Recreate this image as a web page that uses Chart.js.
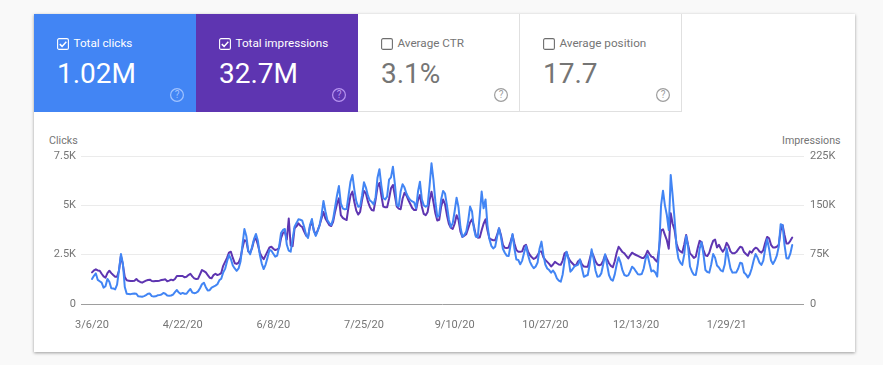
<!DOCTYPE html>
<html>
<head>
<meta charset="utf-8">
<script src="https://cdn.jsdelivr.net/npm/chart.js@4"></script>
<style>
html,body{margin:0;padding:0;width:883px;height:365px;overflow:hidden;background:#f9f9f9;font-family:Roboto,sans-serif}
#card{position:absolute;left:34px;top:14px;width:821px;height:338px;background:#fff;box-shadow:0 1px 3px rgba(0,0,0,.38)}
.tile{position:absolute;top:14px;width:162px;height:98px;box-sizing:border-box;color:#fff}
.tile.off{color:#757575;border-right:1px solid #e0e0e0;border-bottom:1px solid #e0e0e0}
.box{position:absolute;left:23px;top:23.5px;width:12px;height:12px}
.lab{position:absolute;left:39.5px;top:21px;font-size:11.7px;line-height:16px;white-space:nowrap}
.val{position:absolute;left:23px;top:43px;font-size:28px;line-height:34px;white-space:nowrap}
.help{position:absolute;left:135px;top:72.5px;width:16px;height:16px}
.ax{position:absolute;top:134px;font-size:10.7px;line-height:14px;color:#757575;white-space:nowrap}
canvas{position:absolute;left:0;top:0}
</style>
</head>
<body>
<div id="card"></div>
<div id="tiles"></div>
<div class="ax" style="left:49px">Clicks</div>
<div class="ax" style="left:782px">Impressions</div>
<canvas id="c" width="883" height="365"></canvas>
<script>
const startDate = "3/6/20";
const tickLabels = ["3/6/20","4/22/20","6/8/20","7/25/20","9/10/20","10/27/20","12/13/20","1/29/21"];
const tickEveryDays = 47;
const clickTicks = {0:"0",2500:"2.5K",5000:"5K",7500:"7.5K"};
const impressionTicks = {0:"0",75000:"75K",150000:"150K",225000:"225K"};
const tileNames = ["Total clicks","Total impressions","Average CTR","Average position"];
const tileValues = ["1.02M","32.7M","3.1%","17.7"];

const clicks = [
1270,1430,1550,1220,1150,1080,830,900,1270,1130,
800,790,740,980,1720,2530,2060,860,520,510,
500,520,530,520,390,380,370,400,450,520,
530,400,380,390,440,450,480,560,520,430,
420,430,480,600,710,580,510,560,520,520,
650,760,580,550,570,640,800,1000,1080,850,
690,700,830,880,930,1000,1200,1280,1600,1780,
2150,2480,2280,1950,1800,1680,1800,2150,3000,3800,
3450,2700,2520,2900,3300,3550,3200,2500,2050,1770,
2000,2350,2740,2700,2550,2400,2450,2900,3600,3750,
3800,3000,2700,2650,3300,3920,4100,4290,4270,4220,
3900,3500,3350,4000,4310,3700,3450,3700,4000,4500,
5220,4700,4260,4100,4000,4300,4900,5500,5980,5100,
4850,4800,4810,5500,6200,6540,5800,5200,4930,4950,
5500,6170,5900,5500,5250,5180,5050,5400,6400,6830,
6000,5360,5300,5450,6300,6420,6960,6100,5020,4950,
5700,6070,5900,5600,5400,5270,5200,5150,4850,5700,
6200,5300,5000,4930,5000,6000,7130,6300,5200,4420,
4500,5300,5730,5600,5000,4300,3900,4100,4700,5390,
4900,3900,3410,3500,3670,4200,4940,4700,3800,3410,
3400,4500,5700,4850,5300,4000,3300,2950,2820,2900,
3400,3840,3400,2800,2600,2450,2430,3000,3550,2800,
2250,2230,2010,2200,2600,2940,2500,2150,1950,1810,
1900,2100,2800,3160,2500,2000,1800,1720,1590,1700,
1550,1300,1180,1130,1500,2200,2650,2300,1640,1750,
1890,1950,2000,2260,1800,1380,1430,1470,2000,2770,
2300,1700,1380,1400,1550,2000,2520,2000,1470,1250,
1180,1500,2000,2370,2100,1700,1470,1420,1450,1650,
1890,1800,1650,1510,1500,1520,1800,2300,2480,2050,
1650,1700,1600,1390,2800,5000,5740,5000,4510,3750,
6540,5500,4300,2900,2300,2100,1980,2500,3450,2900,
1900,1650,1480,1470,2000,2800,3130,2500,1720,1620,
1590,2000,2530,2350,1950,1850,1700,1650,2000,2820,
2300,1800,1590,1600,1600,1800,2090,2050,1600,1500,
1350,1500,1800,2200,2530,2350,2100,1980,2200,2800,
3280,2800,2200,2030,2200,2450,2900,4040,4000,3000,
2320,2300,2550,2990];

const impressions = [
48100,51000,52700,51000,50600,46000,42000,40000,47000,50600,
47000,44000,41500,41500,51000,73000,60000,41000,36000,35500,
35000,35000,35500,38000,35000,33500,32500,34000,35500,36500,
37000,35000,34500,35000,35000,35500,36500,37000,37500,34500,
35500,37000,36000,38000,42500,42500,42500,42500,40500,41500,
44000,46000,42000,39000,38000,38500,45000,51700,50000,48000,
44000,40000,39000,44000,46000,44000,45000,47000,58000,64000,
70000,78000,79500,70000,62000,61000,63000,70000,85000,97000,
96000,80000,78000,85000,97000,100000,90000,78000,72000,68000,
74000,80000,86000,87000,84000,82000,83000,85000,100000,108000,
110000,98000,130000,89000,88000,115000,118000,122600,119000,117000,
110000,104000,102000,118000,125000,112000,105000,112000,120000,130000,
140000,130000,125000,120000,118600,125000,140000,152000,160600,135000,
131000,129000,127700,148000,165000,170800,155000,142000,136000,140000,
158000,172000,168000,156000,148000,143000,142000,158000,178000,184000,
165000,148000,147000,147000,160000,176000,181000,165000,148000,145000,
144000,160000,169000,165000,158000,152000,146000,143000,143000,158000,
165700,148000,137000,135000,140000,158000,170700,155000,138000,127000,
128000,148000,159000,152000,135000,122000,116000,114000,122000,135000,
128000,110000,102000,104000,106000,115000,124000,128700,118000,104000,
100800,101000,112000,122000,128700,112000,100000,98000,97000,97000,
105000,115000,105000,90000,85600,85000,86000,95000,105000,92000,
82000,79500,79500,80000,88000,90000,80000,74500,71000,68500,
70000,74000,80000,80000,71000,67000,64000,61000,57000,60000,
64000,62000,60000,59500,66000,77000,79000,70000,65000,62000,
59000,59500,65000,67000,60000,57000,56700,56700,68000,79000,
73000,65000,60000,59000,60000,66000,74500,68000,62000,58000,
55800,65000,78000,87000,83000,79000,77000,73000,69400,74000,
78000,76000,74500,73000,71500,70000,70000,74000,81000,76000,
72000,71000,67000,64000,85000,112000,113500,105000,97000,84000,
138000,122000,112500,92000,83000,80000,78000,90000,105000,90000,
77000,74000,70000,72000,85000,96000,94000,82000,74000,73000,
78000,88000,96000,98000,86000,90000,84000,79500,84000,93000,
88000,80000,77000,77000,79000,83000,87000,86000,79000,76000,
73400,80000,78000,83000,85600,84000,80000,78000,82000,93000,
102000,100000,90000,86000,86000,87000,90000,112000,120000,105000,
92000,92000,96000,101000];

// ---- KPI tiles ----
const tileStyle = [
  {left:34,bg:"#4285f4",on:true,help:"#a0c3ff"},
  {left:196,bg:"#5e35b1",on:true,help:"#b794f0"},
  {left:358,bg:"#fff",on:false,help:"#9e9e9e"},
  {left:520,bg:"#fff",on:false,help:"#9e9e9e"}
];
const tilesEl = document.getElementById("tiles");
tileNames.forEach((name,i)=>{
  const s = tileStyle[i];
  const t = document.createElement("div");
  t.className = "tile" + (s.on ? "" : " off");
  t.style.left = s.left + "px";
  t.style.background = s.bg;
  const box = s.on
    ? `<svg class="box" viewBox="0 0 12 12"><rect x=".6" y=".6" width="10.8" height="10.8" rx="1.5" fill="none" stroke="#fff" stroke-width="1.1"/><path d="M2.8 6.1l2.3 2.3 4.2-4.6" fill="none" stroke="#fff" stroke-width="1.5"/></svg>`
    : `<svg class="box" viewBox="0 0 12 12"><rect x=".6" y=".6" width="10.8" height="10.8" rx="1.5" fill="none" stroke="#6e6e6e" stroke-width="1.1"/></svg>`;
  t.innerHTML = box +
    `<div class="lab">${name}</div><div class="val">${tileValues[i]}</div>` +
    `<svg class="help" viewBox="0 0 16 16"><circle cx="8" cy="8" r="6.4" fill="none" stroke="${s.help}" stroke-width="1.2"/><text x="8" y="11.4" text-anchor="middle" font-family="Roboto" font-size="10" fill="${s.help}">?</text></svg>`;
  tilesEl.appendChild(t);
});

// ---- Chart ----
const toXY = arr => arr.map((y,x)=>({x,y}));
new Chart(document.getElementById("c"),{
  type:"line",
  data:{datasets:[
    {label:"Clicks",data:toXY(clicks),yAxisID:"yC",borderColor:"#4285f4",borderWidth:2,borderJoinStyle:"round",borderCapStyle:"round",pointRadius:0,tension:0,order:1},
    {label:"Impressions",data:toXY(impressions),yAxisID:"yI",borderColor:"#5e35b1",borderWidth:2,borderJoinStyle:"round",borderCapStyle:"round",pointRadius:0,tension:0,order:2}
  ]},
  options:{
    responsive:false,animation:false,
    layout:{padding:{top:156,left:0,right:0,bottom:0}},
    plugins:{legend:{display:false},tooltip:{enabled:false}},
    scales:{
      x:{type:"linear",min:-5.7,max:369.1,
        afterBuildTicks:a=>{a.ticks=tickLabels.map((_,i)=>({value:i*tickEveryDays}));},
        afterFit:a=>{a.height=61;},
        grid:{display:false},border:{display:false},
        ticks:{autoSkip:false,maxRotation:0,padding:7,color:"#757575",font:{family:"Roboto",size:11},
          callback:v=>tickLabels[v/tickEveryDays]}},
      yC:{type:"linear",position:"left",min:0,max:7500,
        afterBuildTicks:a=>{a.ticks=Object.keys(clickTicks).map(v=>({value:+v}));},
        afterFit:a=>{a.width=81;},
        border:{display:false},
        grid:{drawTicks:false,color:c=>c.tick&&c.tick.value===0?"#9e9e9e":"#ebebeb",lineWidth:1},
        ticks:{padding:5,color:"#757575",font:{family:"Roboto",size:11},callback:v=>clickTicks[v]}},
      yI:{type:"linear",position:"right",min:0,max:225000,
        afterBuildTicks:a=>{a.ticks=Object.keys(impressionTicks).map(v=>({value:+v}));},
        afterFit:a=>{a.width=79;},
        border:{display:false},
        grid:{display:false,drawTicks:false},
        ticks:{padding:6,color:"#757575",font:{family:"Roboto",size:11},callback:v=>impressionTicks[v]}}
    }
  }
});
</script>
</body>
</html>
